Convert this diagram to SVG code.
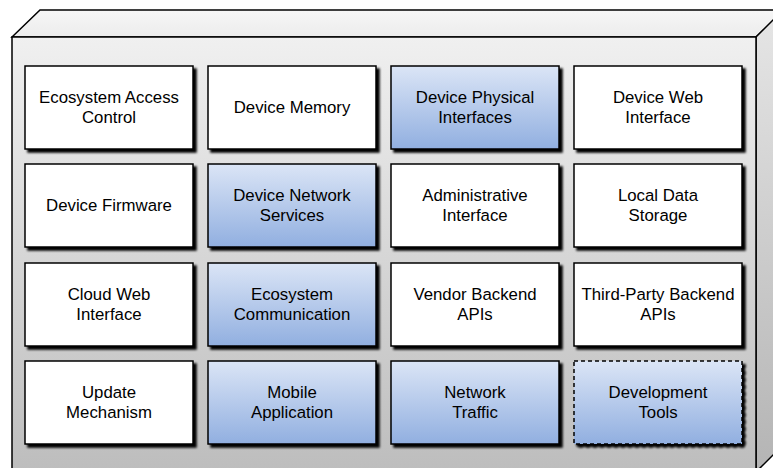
<svg xmlns="http://www.w3.org/2000/svg" width="773" height="468" viewBox="0 0 773 468">
<defs>
<linearGradient id="front" x1="0" y1="0" x2="0" y2="1">
<stop offset="0" stop-color="#f0f0f0"/>
<stop offset="1" stop-color="#bdbdbd"/>
</linearGradient>
<linearGradient id="side" x1="0" y1="0" x2="0" y2="1">
<stop offset="0" stop-color="#e6e6e6"/>
<stop offset="1" stop-color="#b4b4b4"/>
</linearGradient>
<linearGradient id="top" x1="0" y1="0" x2="0" y2="1">
<stop offset="0" stop-color="#f6f6f6"/>
<stop offset="1" stop-color="#ececec"/>
</linearGradient>
<linearGradient id="blue" x1="0" y1="0" x2="0" y2="1">
<stop offset="0" stop-color="#dbe5f6"/>
<stop offset="1" stop-color="#91afe0"/>
</linearGradient>
<filter id="sh" x="-10%" y="-10%" width="130%" height="130%">
<feGaussianBlur in="SourceAlpha" stdDeviation="0.8"/>
<feOffset dx="3" dy="3" result="o"/>
<feMerge><feMergeNode in="o"/><feMergeNode in="SourceGraphic"/></feMerge>
</filter>
</defs>
<style>
.box{stroke:#000;stroke-width:1.5;filter:url(#sh)}
.w{fill:#fff}
.b{fill:url(#blue)}
.d{stroke-dasharray:4 3}
text{font-family:"Liberation Sans",Arial,sans-serif;font-size:16.8px;fill:#000;text-anchor:middle}
.frame{stroke:#000;stroke-width:1.5;stroke-linejoin:miter}
</style>
<g id="enclosure">
<polygon class="frame" points="12,37 40,10 784,10 756,37" fill="url(#top)"/>
<polygon class="frame" points="756,37 784,9 784,444 756,472" fill="url(#side)"/>
<rect class="frame" x="12" y="37" width="744" height="435" fill="url(#front)"/>
</g>
<g id="n1"><rect class="box w" x="25" y="66" width="168" height="83"/><text x="109" y="103">Ecosystem Access</text><text x="109" y="123">Control</text></g>
<g id="n2"><rect class="box w" x="208" y="66" width="168" height="83"/><text x="292" y="113">Device Memory</text></g>
<g id="n3"><rect class="box b" x="391" y="66" width="168" height="83"/><text x="475" y="103">Device Physical</text><text x="475" y="123">Interfaces</text></g>
<g id="n4"><rect class="box w" x="574" y="66" width="168" height="83"/><text x="658" y="103">Device Web</text><text x="658" y="123">Interface</text></g>
<g id="n5"><rect class="box w" x="25" y="164" width="168" height="83"/><text x="109" y="211">Device Firmware</text></g>
<g id="n6"><rect class="box b" x="208" y="164" width="168" height="83"/><text x="292" y="201">Device Network</text><text x="292" y="221">Services</text></g>
<g id="n7"><rect class="box w" x="391" y="164" width="168" height="83"/><text x="475" y="201">Administrative</text><text x="475" y="221">Interface</text></g>
<g id="n8"><rect class="box w" x="574" y="164" width="168" height="83"/><text x="658" y="201">Local Data</text><text x="658" y="221">Storage</text></g>
<g id="n9"><rect class="box w" x="25" y="263" width="168" height="83"/><text x="109" y="300">Cloud Web</text><text x="109" y="320">Interface</text></g>
<g id="n10"><rect class="box b" x="208" y="263" width="168" height="83"/><text x="292" y="300">Ecosystem</text><text x="292" y="320">Communication</text></g>
<g id="n11"><rect class="box w" x="391" y="263" width="168" height="83"/><text x="475" y="300">Vendor Backend</text><text x="475" y="320">APIs</text></g>
<g id="n12"><rect class="box w" x="574" y="263" width="168" height="83"/><text x="658" y="300">Third-Party Backend</text><text x="658" y="320">APIs</text></g>
<g id="n13"><rect class="box w" x="25" y="361" width="168" height="83"/><text x="109" y="398">Update</text><text x="109" y="418">Mechanism</text></g>
<g id="n14"><rect class="box b" x="208" y="361" width="168" height="83"/><text x="292" y="398">Mobile</text><text x="292" y="418">Application</text></g>
<g id="n15"><rect class="box b" x="391" y="361" width="168" height="83"/><text x="475" y="398">Network</text><text x="475" y="418">Traffic</text></g>
<g id="n16"><rect class="box b d" x="574" y="361" width="168" height="83"/><text x="658" y="398">Development</text><text x="658" y="418">Tools</text></g>
<g id="connectors"/>
</svg>
